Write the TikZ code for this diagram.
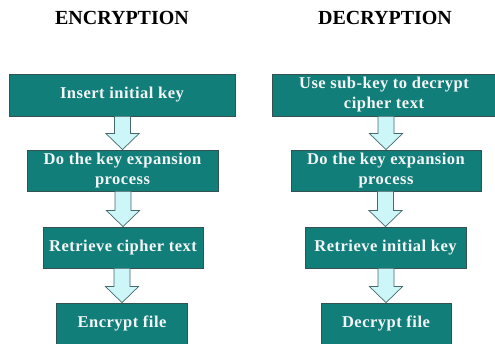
\documentclass[tikz,border=0pt]{standalone}
\usepackage{fontspec}
\setmainfont{Liberation Serif}
\newfontfamily\boxfont[LetterSpace=3]{Liberation Serif}
\usetikzlibrary{calc}
\definecolor{boxteal}{RGB}{18,126,122}
\definecolor{boxedge}{RGB}{52,82,82}
\definecolor{arrfill}{RGB}{204,246,248}
\definecolor{arredge}{RGB}{70,105,108}
\definecolor{txtwhite}{RGB}{244,246,246}
\tikzset{
  stepbox/.style={draw=boxedge, line width=0.8pt, fill=boxteal, text=txtwhite,
    font=\boxfont\fontsize{16.5}{20}\selectfont\bfseries, align=center, inner sep=0pt},
  titletext/.style={font=\fontsize{20}{24}\selectfont\bfseries, text=black},
  blockarrow/.style={draw=arredge, line width=0.7pt, fill=arrfill, line join=miter}
}
\newcommand{\blockarrow}[2]{%
  \draw[blockarrow] let \p1=(#1.south), \p2=(#2.north) in
    (\x2-8pt,\y1) -- (\x2-8pt,\y2+16pt) -- (\x2-16.5pt,\y2+16pt) -- (\x2,\y2)
    -- (\x2+16.5pt,\y2+16pt) -- (\x2+8pt,\y2+16pt) -- (\x2+8pt,\y1) -- cycle;}
\begin{document}
\begin{tikzpicture}[x=1pt,y=-1pt]
\useasboundingbox (0,0) rectangle (495,344);
\node[titletext] (tenc) at (122,18) {ENCRYPTION};
\node[titletext] (tdec) at (385,18) {DECRYPTION};
% encryption
\node[stepbox, minimum width=226pt, minimum height=42pt] (e1) at (122,95) {Insert initial key};
\node[stepbox, minimum width=191pt, minimum height=41pt] (e2) at (122.5,170.5) {Do the key expansion\\process};
\node[stepbox, minimum width=160pt, minimum height=41pt] (e3) at (123,247.5) {Retrieve cipher text};
\node[stepbox, minimum width=131pt, minimum height=41pt] (e4) at (122,323.5) {Encrypt file};
% decryption
\node[stepbox, minimum width=223pt, minimum height=42pt] (d1) at (384,95) {Use sub-key to decrypt\\cipher text};
\node[stepbox, minimum width=190pt, minimum height=41pt] (d2) at (386,170.5) {Do the key expansion\\process};
\node[stepbox, minimum width=161pt, minimum height=41pt] (d3) at (385.5,247.5) {Retrieve initial key};
\node[stepbox, minimum width=130pt, minimum height=41pt] (d4) at (386,323.5) {Decrypt file};
% arrows
\blockarrow{e1}{e2}
\blockarrow{e2}{e3}
\blockarrow{e3}{e4}
\blockarrow{d1}{d2}
\blockarrow{d2}{d3}
\blockarrow{d3}{d4}
\end{tikzpicture}
\end{document}
